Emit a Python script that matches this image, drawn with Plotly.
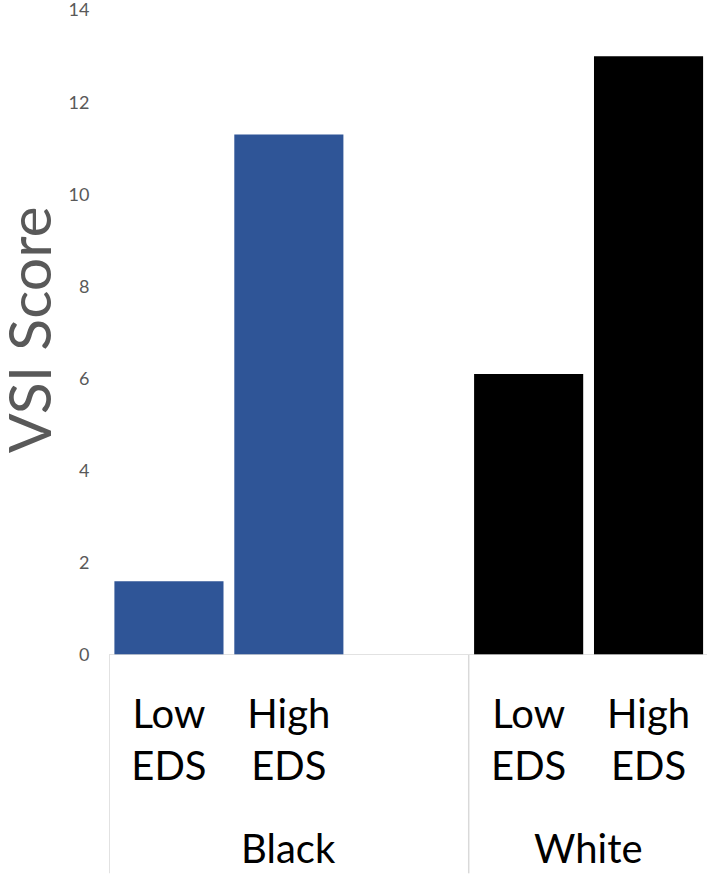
import plotly.graph_objects as go

categories = ["Low<br>EDS", "High<br>EDS", "Low<br>EDS", "High<br>EDS"]
groups = ["Black", "White"]
black_values = [1.6, 11.3]
white_values = [6.1, 13.0]
y_ticks = [0, 2, 4, 6, 8, 10, 12, 14]

FONT = "Lato"
W, H = 707, 874
L, T, B = 108.5, 10, 218.5
slot = 120.0
xmax = -0.5 + (W - L) / slot

black_x = [0, 1]
white_x = [3, 4]

fig = go.Figure()
fig.add_trace(go.Bar(x=black_x, y=black_values, marker_color="#2f5597", width=0.91,
                     marker_line_width=0, showlegend=False))
fig.add_trace(go.Bar(x=white_x, y=white_values, marker_color="#000000", width=0.91,
                     marker_line_width=0, showlegend=False))

fig.update_layout(
    width=W, height=H,
    margin=dict(l=L, r=0, t=T, b=B, autoexpand=False),
    paper_bgcolor="white", plot_bgcolor="white",
    font=dict(family=FONT, color="#000000"),
    xaxis=dict(range=[-0.5, xmax], tickvals=black_x + white_x, ticktext=categories,
               tickfont=dict(size=40, color="#000000", family=FONT),
               showgrid=False, zeroline=False, showline=False,
               ticks="outside", ticklen=24, tickcolor="rgba(0,0,0,0)"),
    yaxis=dict(range=[0, 14.002], tickvals=y_ticks, showgrid=False, zeroline=False,
               showline=False, tickfont=dict(size=18, color="#595959", family=FONT),
               ticks="outside", ticklen=15, tickcolor="rgba(0,0,0,0)",
               ticklabeloverflow="allow"),
)

# baseline
fig.add_shape(type="line", xref="paper", yref="y", x0=0, x1=1, y0=0, y1=0,
              line=dict(color="#d9d9d9", width=1.5))
# group separators
for xs in [-0.5, 2.5]:
    fig.add_shape(type="line", xref="x", yref="paper", x0=xs, x1=xs, y0=0,
                  y1=-B / (H - T - B), line=dict(color="#d9d9d9", width=1.5))

# group labels
gy = -(849 - (H - B)) / (H - T - B)
fig.add_annotation(x=1.0, y=gy, xref="x", yref="paper",
                   text=groups[0], showarrow=False, font=dict(size=40, color="#000000"),
                   xanchor="center", yanchor="middle")
fig.add_annotation(x=3.5, y=gy, xref="x", yref="paper",
                   text=groups[1], showarrow=False, font=dict(size=40, color="#000000"),
                   xanchor="center", yanchor="middle")

# y title
fig.add_annotation(x=-(L - 28) / (W - L), y=(H - B - 330) / (H - T - B), xref="paper", yref="paper",
                   text="VSI Score", textangle=-90, showarrow=False, borderpad=0,
                   font=dict(size=59, color="#595959"), xanchor="center", yanchor="middle")

fig.write_html("out.html", config={"displayModeBar": False},
               post_script="document.body.style.margin='0';document.body.style.overflow='hidden';")
